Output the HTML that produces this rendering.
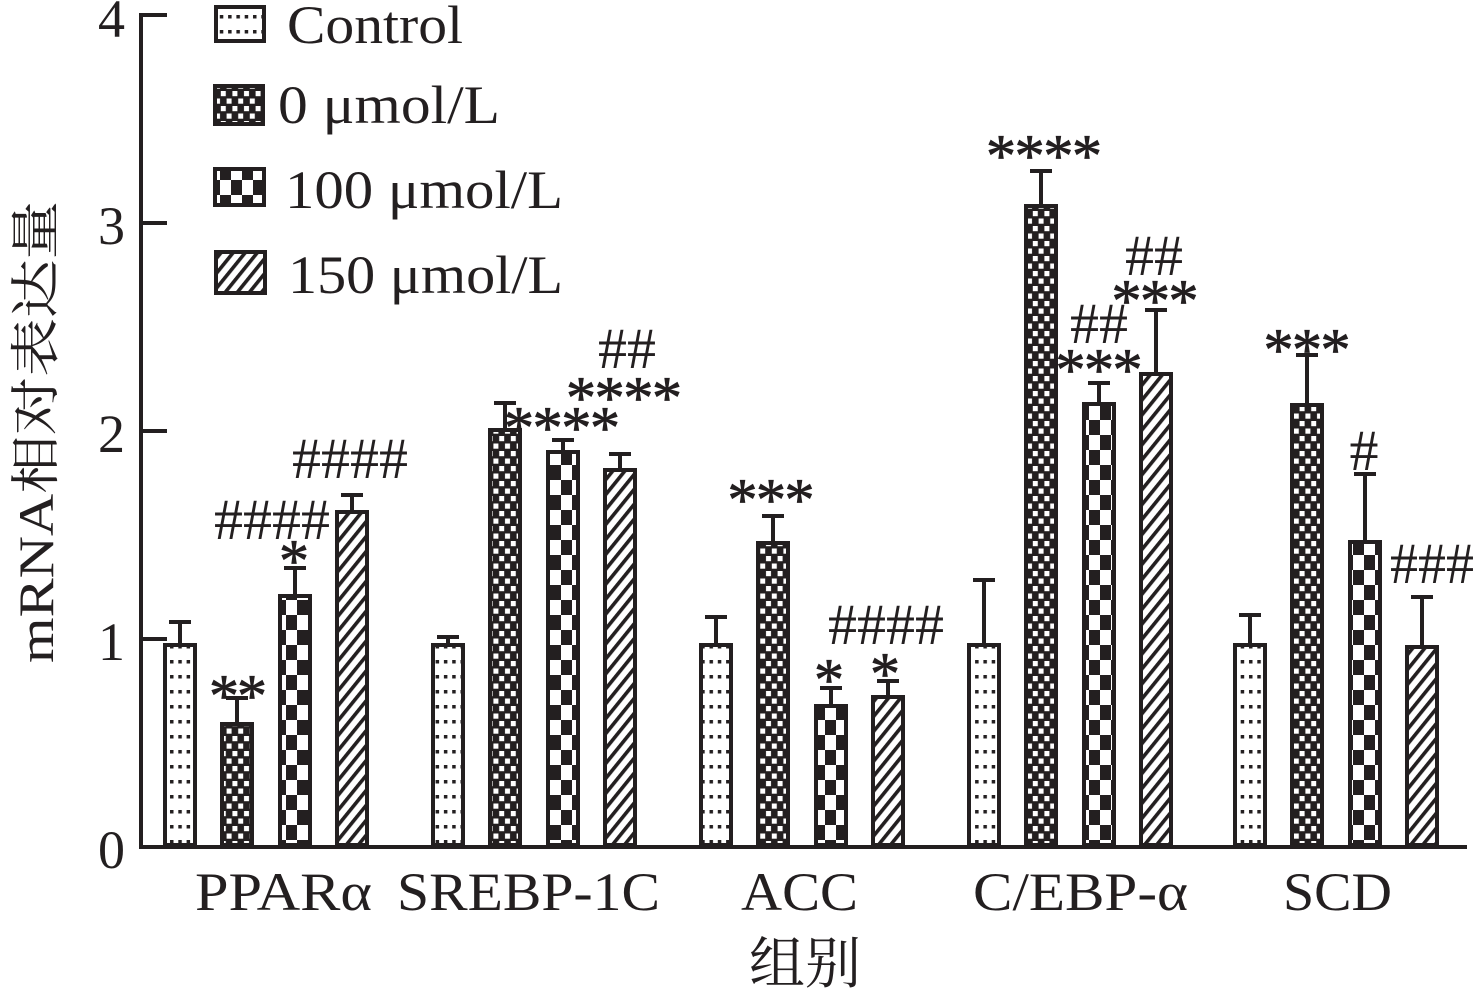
<!DOCTYPE html>
<html><head><meta charset="utf-8"><style>
html,body{margin:0;padding:0;background:#fff;}
svg{display:block;}
text{font-family:"Liberation Serif","Noto Serif CJK SC",serif;fill:#231f20;}
</style></head><body>
<svg width="1475" height="992" viewBox="0 0 1475 992" xmlns="http://www.w3.org/2000/svg">
<defs>
<pattern id="dots" patternUnits="userSpaceOnUse" x="169" y="655" width="8.3" height="15">
<rect width="8.3" height="15" fill="#fff"/><rect x="1" y="5" width="3.5" height="3.5" fill="#231f20"/>
</pattern>
<pattern id="fine" patternUnits="userSpaceOnUse" width="11.6" height="15">
<rect width="11.6" height="15" fill="#231f20"/>
<rect x="0.4" y="1" width="5" height="5.2" fill="#fff"/>
<rect x="6.2" y="8.5" width="5" height="5.2" fill="#fff"/>
</pattern>
<pattern id="coarse" patternUnits="userSpaceOnUse" width="22" height="30">
<rect width="22" height="30" fill="#231f20"/>
<rect x="0" y="0" width="11" height="15" fill="#fff"/>
<rect x="11" y="15" width="11" height="15" fill="#fff"/>
</pattern>
<pattern id="stripe" patternUnits="userSpaceOnUse" width="9.4" height="10" patternTransform="rotate(39)">
<rect width="9.4" height="10" fill="#fff"/>
<rect x="0" y="0" width="3.6" height="10" fill="#231f20"/>
</pattern>
</defs>

<!-- axes -->
<g stroke="#231f20" stroke-width="4" fill="none">
<line x1="141" y1="13" x2="141" y2="849"/>
<line x1="139" y1="847" x2="1467" y2="847"/>
<line x1="141" y1="15" x2="167" y2="15"/>
<line x1="141" y1="223" x2="167" y2="223"/>
<line x1="141" y1="431" x2="167" y2="431"/>
<line x1="141" y1="639" x2="167" y2="639"/>
</g>

<!-- tick labels -->
<g font-size="54" text-anchor="end">
<text x="125" y="37">4</text>
<text x="125" y="244">3</text>
<text x="125" y="452">2</text>
<text x="125" y="660">1</text>
<text x="125" y="868">0</text>
</g>

<!-- bars -->
<g stroke="#231f20" stroke-width="4">
<rect x="165" y="645" width="30" height="200" fill="url(#dots)"/>
<rect x="222" y="724" width="30" height="121" fill="url(#fine)"/>
<rect x="280" y="596" width="30" height="249" fill="url(#coarse)"/>
<rect x="337" y="512" width="30" height="333" fill="url(#stripe)"/>
<rect x="433" y="645" width="30" height="200" fill="url(#dots)"/>
<rect x="490" y="430" width="30" height="415" fill="url(#fine)"/>
<rect x="548" y="452" width="30" height="393" fill="url(#coarse)"/>
<rect x="605" y="470" width="30" height="375" fill="url(#stripe)"/>
<rect x="701" y="645" width="30" height="200" fill="url(#dots)"/>
<rect x="758" y="543" width="30" height="302" fill="url(#fine)"/>
<rect x="816" y="706" width="30" height="139" fill="url(#coarse)"/>
<rect x="873" y="697" width="30" height="148" fill="url(#stripe)"/>
<rect x="969" y="645" width="30" height="200" fill="url(#dots)"/>
<rect x="1026" y="206" width="30" height="639" fill="url(#fine)"/>
<rect x="1084" y="404" width="30" height="441" fill="url(#coarse)"/>
<rect x="1141" y="374" width="30" height="471" fill="url(#stripe)"/>
<rect x="1235" y="645" width="30" height="200" fill="url(#dots)"/>
<rect x="1292" y="405" width="30" height="440" fill="url(#fine)"/>
<rect x="1350" y="542" width="30" height="303" fill="url(#coarse)"/>
<rect x="1407" y="647" width="30" height="198" fill="url(#stripe)"/>
</g>

<!-- error bars -->
<g stroke="#231f20" stroke-width="4" fill="none">
<path d="M180 643V622M169 622H191"/>
<path d="M237 722V698M226 698H248"/>
<path d="M295 594V568M284 568H306"/>
<path d="M352 510V495M341 495H363"/>
<path d="M448 643V637M437 637H459"/>
<path d="M505 428V403M494 403H516"/>
<path d="M563 450V440M552 440H574"/>
<path d="M620 468V454M609 454H631"/>
<path d="M716 643V617M705 617H727"/>
<path d="M773 541V516M762 516H784"/>
<path d="M831 704V688M820 688H842"/>
<path d="M888 695V681M877 681H899"/>
<path d="M984 643V580M973 580H995"/>
<path d="M1041 204V171M1030 171H1052"/>
<path d="M1099 402V383M1088 383H1110"/>
<path d="M1156 372V310M1145 310H1167"/>
<path d="M1250 643V615M1239 615H1261"/>
<path d="M1307 403V355M1296 355H1318"/>
<path d="M1365 540V474M1354 474H1376"/>
<path d="M1422 645V597M1411 597H1433"/>
</g>

<!-- significance marks -->
<g text-anchor="middle" font-size="60" stroke="#231f20" stroke-width="0.8">
<text x="238" y="716" textLength="58" lengthAdjust="spacing">**</text>
<text x="294" y="581">*</text>
<text x="562" y="448" textLength="116" lengthAdjust="spacing">****</text>
<text x="624" y="418" textLength="116" lengthAdjust="spacing">****</text>
<text x="771" y="520" textLength="87" lengthAdjust="spacing">***</text>
<text x="829" y="700">*</text>
<text x="885" y="694">*</text>
<text x="1044" y="176" textLength="116" lengthAdjust="spacing">****</text>
<text x="1099" y="390" textLength="87" lengthAdjust="spacing">***</text>
<text x="1155" y="321" textLength="87" lengthAdjust="spacing">***</text>
<text x="1307" y="370" textLength="87" lengthAdjust="spacing">***</text>
</g>
<g text-anchor="middle" font-size="58">
<text x="272" y="539" textLength="116" lengthAdjust="spacingAndGlyphs">####</text>
<text x="350" y="478" textLength="116" lengthAdjust="spacingAndGlyphs">####</text>
<text x="627" y="368" textLength="58" lengthAdjust="spacingAndGlyphs">##</text>
<text x="886" y="644" textLength="116" lengthAdjust="spacingAndGlyphs">####</text>
<text x="1099" y="343" textLength="58" lengthAdjust="spacingAndGlyphs">##</text>
<text x="1154" y="275" textLength="58" lengthAdjust="spacingAndGlyphs">##</text>
<text x="1364" y="470">#</text>
<text x="1432" y="583" textLength="84" lengthAdjust="spacingAndGlyphs">###</text>
</g>

<!-- legend -->
<g stroke="#231f20" stroke-width="4">
<rect x="216" y="7" width="48" height="34" fill="url(#dots)"/>
<rect x="215" y="86" width="48" height="38" fill="url(#fine)"/>
<rect x="215" y="169" width="49" height="36" fill="url(#coarse)"/>
<rect x="216" y="252" width="49" height="41" fill="url(#stripe)"/>
</g>
<g font-size="54">
<text x="287" y="43" textLength="176" lengthAdjust="spacingAndGlyphs">Control</text>
<text x="278" y="123" textLength="222" lengthAdjust="spacingAndGlyphs">0 μmol/L</text>
<text x="285" y="208" textLength="278" lengthAdjust="spacingAndGlyphs">100 μmol/L</text>
<text x="288" y="293" textLength="275" lengthAdjust="spacingAndGlyphs">150 μmol/L</text>
</g>

<!-- x category labels -->
<g font-size="54">
<text x="195" y="910" textLength="177" lengthAdjust="spacingAndGlyphs">PPARα</text>
<text x="397" y="910" textLength="263" lengthAdjust="spacingAndGlyphs">SREBP-1C</text>
<text x="741" y="910" textLength="117" lengthAdjust="spacingAndGlyphs">ACC</text>
<text x="973" y="910" textLength="215" lengthAdjust="spacingAndGlyphs">C/EBP-α</text>
<text x="1283" y="910" textLength="109" lengthAdjust="spacingAndGlyphs">SCD</text>
</g>

<text x="805" y="983" font-size="56" text-anchor="middle" style="font-family:'Noto Serif CJK SC','Liberation Serif',serif;">组别</text>

<text transform="translate(53,432) rotate(-90)" x="0" y="0" font-size="50" text-anchor="middle" textLength="462" lengthAdjust="spacingAndGlyphs">mRNA相对表达量</text>
</svg>
</body></html>
